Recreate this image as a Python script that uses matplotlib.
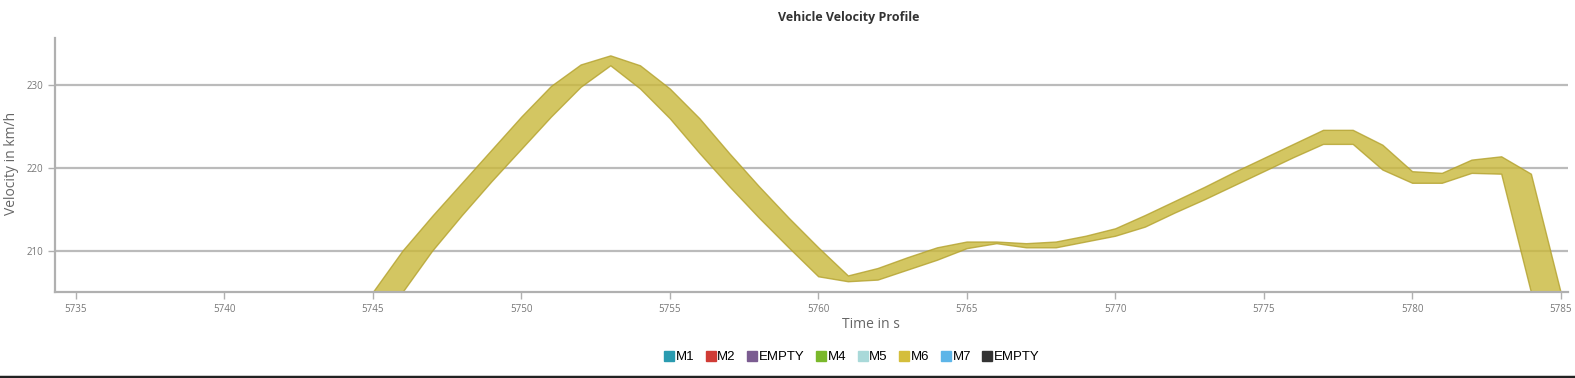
import matplotlib.pyplot as plt
from matplotlib.lines import Line2D
import numpy as np

# velocity band (upper / lower bound)
time_s = list(range(5745, 5786))
v_upper = [205.0, 210.0, 214.2, 218.2, 222.2, 226.2, 229.9, 232.5, 233.6, 232.4,
           229.6, 226.0, 221.8, 217.8, 214.0, 210.4, 207.0, 207.9, 209.2, 210.4,
           211.1, 211.1, 210.9, 211.1, 211.8, 212.7, 214.3, 216.0, 217.7, 219.5,
           221.2, 222.9, 224.6, 224.6, 222.8, 219.6, 219.4, 221.0, 221.4, 219.3,
           205.0]
v_lower = [205.0, 205.0, 210.0, 214.3, 218.4, 222.3, 226.2, 229.8, 232.4, 229.6,
           226.0, 221.8, 217.8, 214.0, 210.4, 206.9, 206.3, 206.5, 207.7, 208.9,
           210.3, 210.9, 210.4, 210.4, 211.1, 211.8, 212.9, 214.6, 216.2, 217.9,
           219.6, 221.3, 222.9, 222.9, 219.8, 218.2, 218.2, 219.4, 219.3, 205.0,
           205.0]

x_ticks = [5735, 5740, 5745, 5750, 5755, 5760, 5765, 5770, 5775, 5780, 5785]
y_ticks = [210, 220, 230]

legend_names = ['M1', 'M2', 'EMPTY', 'M4', 'M5', 'M6', 'M7', 'EMPTY']
legend_colors = ['#2a9bb0', '#d03b35', '#7b5c91', '#7ab82b', '#a9d9d9', '#d4be3c', '#5db5e8', '#333333']

fig = plt.figure(figsize=(15.75, 3.78), dpi=100)
ax = fig.add_axes([55/1575, 1 - 292/378, (1568 - 55)/1575, (292 - 38)/378])

# semi-transparent band so the grid shows through, like the original
ax.fill_between(time_s, v_lower, v_upper, facecolor='#c9b83b', alpha=0.8,
                edgecolor='#b3a12c', linewidth=1.0, zorder=3)

ax.set_xlim(5734.3, 5785.25)
ax.set_ylim(205, 235.7)
ax.set_xticks(x_ticks)
ax.set_yticks(y_ticks)
ax.grid(axis='y', color='#bbbbbb', linewidth=1.6)
ax.set_axisbelow(True)

for s in ['top', 'right']:
    ax.spines[s].set_visible(False)
for s in ['left', 'bottom']:
    ax.spines[s].set_color('#b0b0b0')
    ax.spines[s].set_linewidth(1.6)
    ax.spines[s].set_zorder(4)
ax.tick_params(colors='#b0b0b0', labelcolor='#777777', labelsize=7, length=5, width=1)
for lab in ax.get_xticklabels() + ax.get_yticklabels():
    lab.set_family('Open Sans')

fig.text(849/1575, 1 - 18/378, 'Vehicle Velocity Profile', ha='center', va='center',
         fontsize=9, fontweight='bold', color='#333333', family='Open Sans')
fig.text(871/1575, 1 - 324/378, 'Time in s', ha='center', va='center',
         fontsize=10, color='#666666', family='Open Sans')
fig.text(12/1575, 1 - 163/378, 'Velocity in km/h', ha='center', va='center',
         rotation=90, fontsize=10, color='#666666', family='Open Sans')

handles = [Line2D([], [], marker='s', linestyle='none', markersize=6.5, color=c,
                  label=n) for n, c in zip(legend_names, legend_colors)]
fig.legend(handles=handles, loc='center', bbox_to_anchor=(851/1575, 1 - 357/378),
           ncol=8, frameon=False, handletextpad=0.0, columnspacing=0.75,
           handlelength=1.0, prop={'family': 'Liberation Sans', 'size': 9.5})

# dark border at the bottom of the screenshot
fig.add_artist(Line2D([0, 1], [1.5/378, 1.5/378], color='#222222', linewidth=2.5))

fig.savefig('out.png', dpi=100)
